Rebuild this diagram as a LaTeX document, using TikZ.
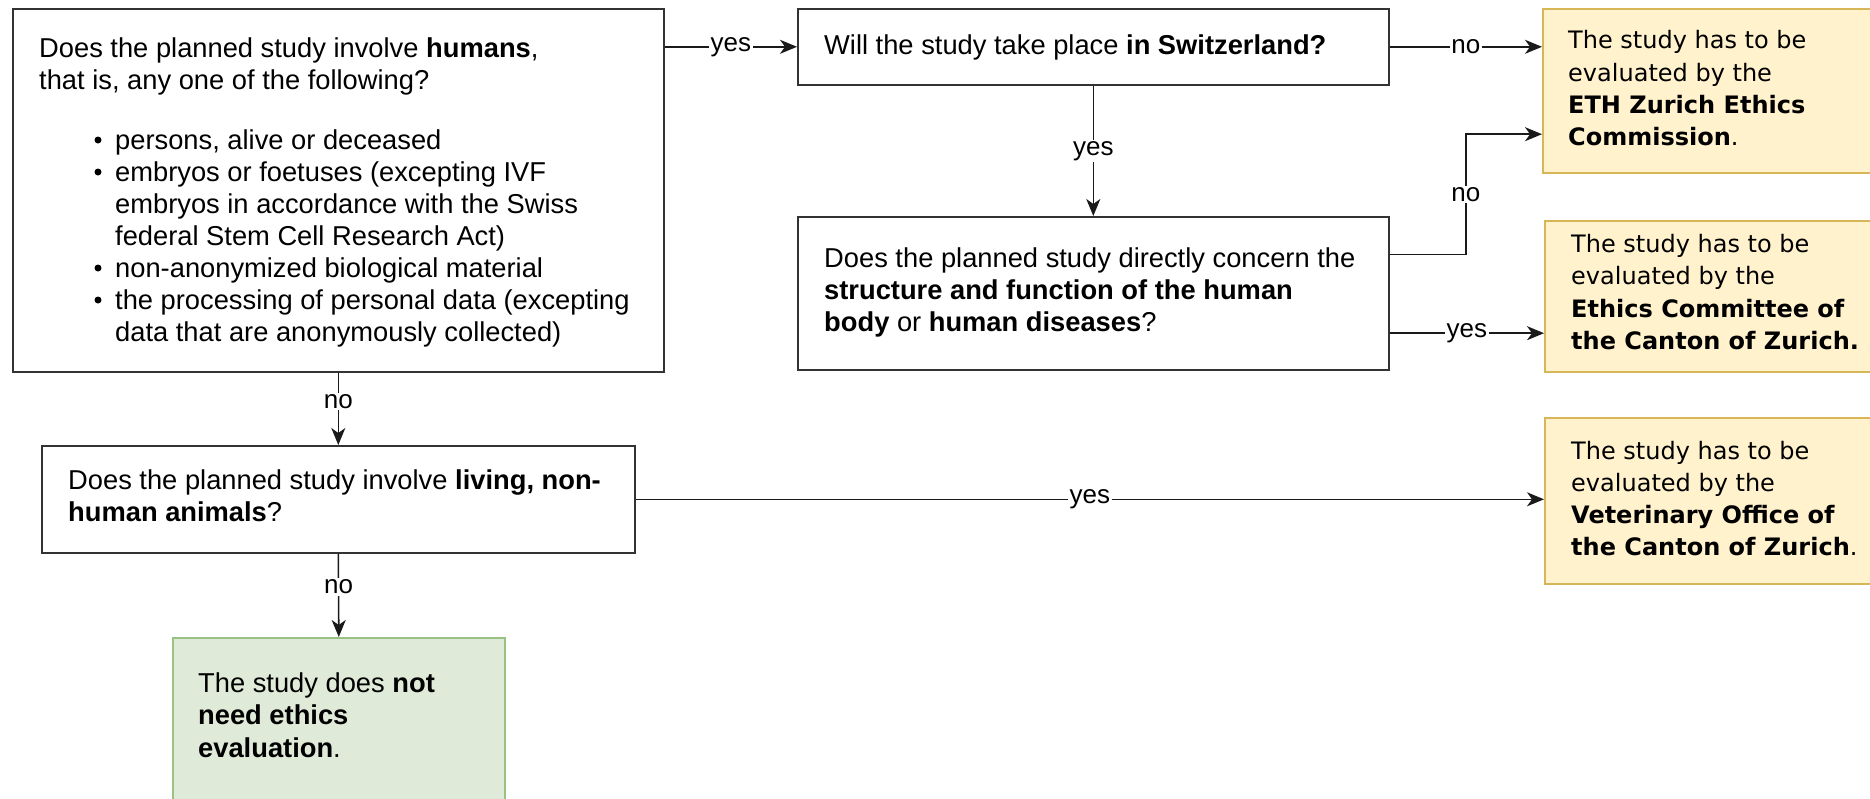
\documentclass[tikz,border=0pt]{standalone}
\usepackage{fontspec}
\setmainfont{Liberation Sans}
\newfontfamily\yfont{DejaVu Sans}
\usetikzlibrary{arrows.meta,calc}
\definecolor{yfill}{HTML}{FFF2CC}
\definecolor{ydraw}{HTML}{D6B656}
\definecolor{gfill}{HTML}{DFEBD8}
\definecolor{gdraw}{HTML}{97C281}
\definecolor{bdraw}{HTML}{333333}
\definecolor{adraw}{HTML}{1A1A1A}
\begin{document}
\begin{tikzpicture}[x=1pt,y=-1pt,
  qbox/.style={draw=bdraw, line width=1.6pt, fill=white, rectangle, inner sep=0pt, anchor=north west},
  ybox/.style={draw=ydraw, fill=yfill, line width=1.6pt, rectangle, inner sep=0pt, anchor=north west},
  gbox/.style={draw=gdraw, fill=gfill, line width=1.6pt, rectangle, inner sep=0pt, anchor=north west},
  txt/.style={anchor=base west, inner sep=0pt, font=\fontsize{27.3}{32}\selectfont},
  ytxt/.style={anchor=base west, inner sep=0pt, font=\yfont\fontsize{24}{32}\selectfont},
  lbl/.style={fill=white, inner sep=1.5pt, font=\fontsize{26}{30}\selectfont},
  arr/.style={draw=adraw, line width=1.6pt, -{Stealth[length=17pt,width=14pt,inset=5pt]}},
  bul/.style={circle, fill=black, draw=none, inner sep=0pt, minimum size=7pt}
]
\useasboundingbox (0,0) rectangle (1870,798);
\clip (0,0) rectangle (1870,798);
\fill[white] (0,0) rectangle (1870,798);

% boxes
\node[qbox, minimum width=651, minimum height=363] (A) at (12,8) {};
\node[qbox, minimum width=591, minimum height=76] (B) at (797,8) {};
\node[qbox, minimum width=591, minimum height=153] (C) at (797,216) {};
\node[qbox, minimum width=593, minimum height=107] (D) at (41,445) {};
\node[gbox, minimum width=332, minimum height=200] (G) at (172,637) {};
\node[ybox, minimum width=400, minimum height=164] (Y1) at (1542,8) {};
\node[ybox, minimum width=400, minimum height=151] (Y2) at (1544,220) {};
\node[ybox, minimum width=400, minimum height=166] (Y3) at (1544,417) {};

% box A text
\node[txt] (a1) at (39,57) {Does the planned study involve \textbf{humans},};
\node[txt] (a2) at (39,89) {that is, any one of the following?};
\node[bul] (ab1) at (98,140) {};
\node[txt] (a3) at (115,149) {persons, alive or deceased};
\node[bul] (ab2) at (98,172) {};
\node[txt] (a4) at (115,181) {embryos or foetuses (excepting IVF};
\node[txt] (a5) at (115,213) {embryos in accordance with the Swiss};
\node[txt] (a6) at (115,245) {federal Stem Cell Research Act)};
\node[bul] (ab3) at (98,268) {};
\node[txt] (a7) at (115,277) {non-anonymized biological material};
\node[bul] (ab4) at (98,300) {};
\node[txt] (a8) at (115,309) {the processing of personal data (excepting};
\node[txt] (a9) at (115,341) {data that are anonymously collected)};

% box B text
\node[txt] (b1) at (824,54) {Will the study take place \textbf{in Switzerland?}};

% box C text
\node[txt] (c1t) at (824,267) {Does the planned study directly concern the};
\node[txt] (c2t) at (824,299) {\textbf{structure and function of the human}};
\node[txt] (c3t) at (824,331) {\textbf{body} or \textbf{human diseases}?};

% box D text
\node[txt] (d1) at (68,489) {Does the planned study involve \textbf{living, non-}};
\node[txt] (d2) at (68,521) {\textbf{human animals}?};

% green text
\node[txt] (g1) at (198,692) {The study does \textbf{not}};
\node[txt] (g2) at (198,724) {\textbf{need ethics}};
\node[txt] (g3) at (198,757) {\textbf{evaluation}.};

% yellow texts
\node[ytxt] (y11) at (1568,48) {The study has to be};
\node[ytxt] (y12) at (1568,81) {evaluated by the};
\node[ytxt] (y13) at (1568,113) {\textbf{ETH Zurich Ethics}};
\node[ytxt] (y14) at (1568,145) {\textbf{Commission}.};

\node[ytxt] (y21) at (1571,252) {The study has to be};
\node[ytxt] (y22) at (1571,284) {evaluated by the};
\node[ytxt] (y23) at (1571,317) {\textbf{Ethics Committee of}};
\node[ytxt] (y24) at (1571,349) {\textbf{the Canton of Zurich.}};

\node[ytxt] (y31) at (1571,459) {The study has to be};
\node[ytxt] (y32) at (1571,491) {evaluated by the};
\node[ytxt] (y33) at (1571,523) {\textbf{Veterinary Office of}};
\node[ytxt] (y34) at (1571,555) {\textbf{the Canton of Zurich}.};

% connectors
\draw[arr] (A.east |- B.west) -- node[lbl] (l1) {yes} (B.west);
\draw[arr] (B.east) -- node[lbl] (l2) {no} (Y1.west |- B.east);
\draw[arr] (B.south) -- node[lbl] (l3) {yes} (C.north);
\coordinate (c1) at ($(C.north east)!0.25!(C.south east)$);
\coordinate (y1b) at ($(Y1.north west)!0.762!(Y1.south west)$);
\coordinate (m1) at ($(c1)!0.5!(y1b)$);
\draw[arr] (c1) -| (m1) |- (y1b);
\node[lbl] (l4) at (m1) {no};
\coordinate (c2) at ($(C.north east)!0.758!(C.south east)$);
\draw[arr] (c2) -- node[lbl] (l5) {yes} (Y2.west |- c2);
\draw[arr] (A.south) -- node[lbl, pos=0.4] (l6) {no} (D.north);
\draw[arr] (D.east) -- node[lbl] (l7) {yes} (Y3.west |- D.east);
\draw[arr] (D.south) -- node[lbl, pos=0.4] (l8) {no} (G.north);
\end{tikzpicture}
\end{document}
